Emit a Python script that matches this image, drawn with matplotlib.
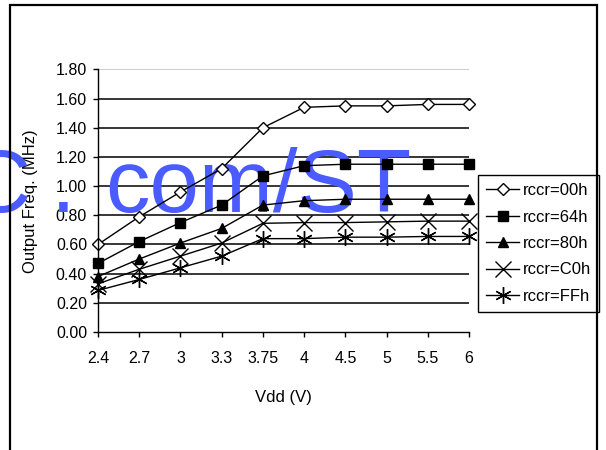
import matplotlib
matplotlib.use("Agg")
import matplotlib.pyplot as plt
from matplotlib.patches import Rectangle

plt.rcParams['font.family'] = ['Liberation Sans', 'DejaVu Sans']

categories = ["2.4", "2.7", "3", "3.3", "3.75", "4", "4.5", "5", "5.5", "6"]
series_labels = ["rccr=00h", "rccr=64h", "rccr=80h", "rccr=C0h", "rccr=FFh"]
rccr_00h = [0.60, 0.79, 0.96, 1.12, 1.40, 1.54, 1.55, 1.55, 1.56, 1.56]
rccr_64h = [0.47, 0.62, 0.75, 0.87, 1.07, 1.14, 1.15, 1.15, 1.15, 1.15]
rccr_80h = [0.38, 0.50, 0.61, 0.71, 0.87, 0.90, 0.91, 0.91, 0.91, 0.91]
rccr_C0h = [0.33, 0.43, 0.52, 0.61, 0.745, 0.75, 0.75, 0.755, 0.76, 0.76]
rccr_FFh = [0.285, 0.36, 0.44, 0.52, 0.64, 0.64, 0.65, 0.65, 0.655, 0.655]
y_ticks = [0.0, 0.2, 0.4, 0.6, 0.8, 1.0, 1.2, 1.4, 1.6, 1.8]

W, H = 606, 450
fig = plt.figure(figsize=(W / 100, H / 100), dpi=100)
fig.patch.set_facecolor("white")

# figure frame
fig.patches.append(Rectangle((10 / W, -0.05), (597 - 10) / W, 1.05 - 5 / H,
                             transform=fig.transFigure, fill=False,
                             edgecolor="black", linewidth=1.6))

ax = fig.add_axes([98 / W, (H - 332) / H, (469 - 98) / W, (332 - 69.4) / H])
x = list(range(len(categories)))

styles = [
    dict(marker="D", markersize=6, markerfacecolor="white", markeredgecolor="black", markeredgewidth=1.0),
    dict(marker="s", markersize=7, markerfacecolor="black", markeredgecolor="black"),
    dict(marker="^", markersize=7, markerfacecolor="black", markeredgecolor="black"),
    dict(marker="x", markersize=11, markeredgecolor="black", markeredgewidth=1.0),
    dict(marker=(6, 2, 0), markersize=12, markeredgecolor="black", markeredgewidth=1.0),
]
data = [rccr_00h, rccr_64h, rccr_80h, rccr_C0h, rccr_FFh]
for vals, lab, st in zip(data, series_labels, styles):
    ax.plot(x, vals, color="black", linewidth=1.0, label=lab, zorder=3, clip_on=False, **st)

ax.set_xlim(0, len(categories) - 1)
ax.set_ylim(0, 1.8)
ax.set_xticks(x)
ax.set_xticklabels(categories)
ax.set_yticks(y_ticks)
ax.set_yticklabels([f"{v:.2f}" for v in y_ticks])
ax.tick_params(axis="both", direction="out", length=3.6, width=1, labelsize=11.5, color="black")
ax.tick_params(axis="y", pad=4.3)
ax.tick_params(axis="x", pad=10)

for s in ["top", "right"]:
    ax.spines[s].set_visible(False)
for s in ["left", "bottom"]:
    ax.spines[s].set_linewidth(1.0)
    ax.spines[s].set_zorder(4)

ax.yaxis.grid(True, color="black", linewidth=1.1)
ax.set_axisbelow(True)
gl = ax.get_ygridlines()
gl[-1].set_color("#c0c0c0")
gl[0].set_visible(False)

ax.set_xlabel("Vdd (V)", fontsize=12)
ax.xaxis.set_label_coords(0.5, -0.222)
ax.set_ylabel("Output Freq. (MHz)", fontsize=12)
ax.yaxis.set_label_coords(-0.163, 0.5)

leg = ax.legend(loc="upper left", bbox_to_anchor=(478 / W, 1 - 175 / H),
                bbox_transform=fig.transFigure, frameon=True, fancybox=False,
                edgecolor="black", framealpha=1, fontsize=12, handlelength=2.0,
                handletextpad=0.2, labelspacing=0.69, borderpad=0.48, borderaxespad=0)
leg.get_frame().set_linewidth(1.0)

# watermark
wm = dict(transform=fig.transFigure, va="baseline", fontsize=64,
          color="#4A5CFF", zorder=2, family=["Liberation Sans", "DejaVu Sans"], clip_on=False)
ax.text(31 / W, 1 - 212 / H, "C", ha="right", **wm)
ax.text(63 / W, 1 - 212 / H, ".", ha="center", **wm)
ax.text(411 / W, 1 - 212 / H, "com/ST", ha="right", **wm)

fig.savefig("out.png", dpi=100)
